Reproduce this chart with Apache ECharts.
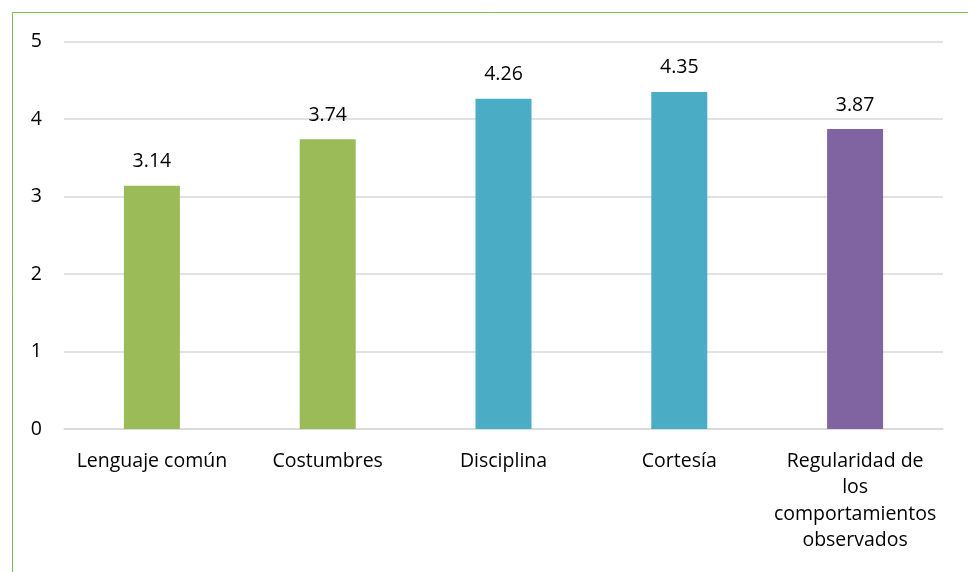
<!DOCTYPE html>
<html><head><meta charset="utf-8">
<script src="https://cdn.jsdelivr.net/npm/echarts@6/dist/echarts.min.js"></script>
<style>html,body{margin:0;padding:0;background:#fff}#c{width:968px;height:572px}</style>
</head><body><div id="c"></div>
<script>
var categories = ["Lenguaje común", "Costumbres", "Disciplina", "Cortesía", "Regularidad de\nlos\ncomportamientos\nobservados"];
var values = [3.14, 3.74, 4.26, 4.35, 3.87];
var barColors = ["#9BBB59", "#9BBB59", "#4BACC6", "#4BACC6", "#8064A2"];
var yTicks = [0, 1, 2, 3, 4, 5];

var chart = echarts.init(document.getElementById('c'), null, {renderer: 'canvas'});
var font = '"Open Sans", "Noto Sans", sans-serif';
chart.setOption({
  animation: false,
  graphic: [{
    type: 'rect', shape: {x: 12.5, y: 12.5, width: 1200, height: 1200},
    style: {fill: 'none', stroke: '#7DBE52', lineWidth: 1}, silent: true, z: -1
  }],
  grid: {left: 64, right: 25, top: 41.5, bottom: 143},
  xAxis: {
    type: 'category', data: categories,
    axisLine: {show: true, lineStyle: {color: '#d9d9d9', width: 1.5}},
    axisTick: {show: false},
    axisLabel: {color: '#000', fontFamily: font, fontSize: 19.5, margin: 19, lineHeight: 26.5, interval: 0}
  },
  yAxis: {
    type: 'value', min: yTicks[0], max: yTicks[yTicks.length - 1], interval: 1,
    axisLine: {show: false}, axisTick: {show: false},
    splitLine: {lineStyle: {color: '#d9d9d9', width: 1.5}},
    axisLabel: {color: '#000', fontFamily: font, fontSize: 19.5, margin: 22}
  },
  series: [{
    type: 'bar', barWidth: 56,
    data: values.map(function (v, i) { return {value: v, itemStyle: {color: barColors[i]}}; }),
    label: {show: true, position: 'top', distance: 14, color: '#000', fontFamily: font, fontSize: 19.5,
      formatter: function (p) { return p.value.toFixed(2); }}
  }]
});
</script></body></html>
